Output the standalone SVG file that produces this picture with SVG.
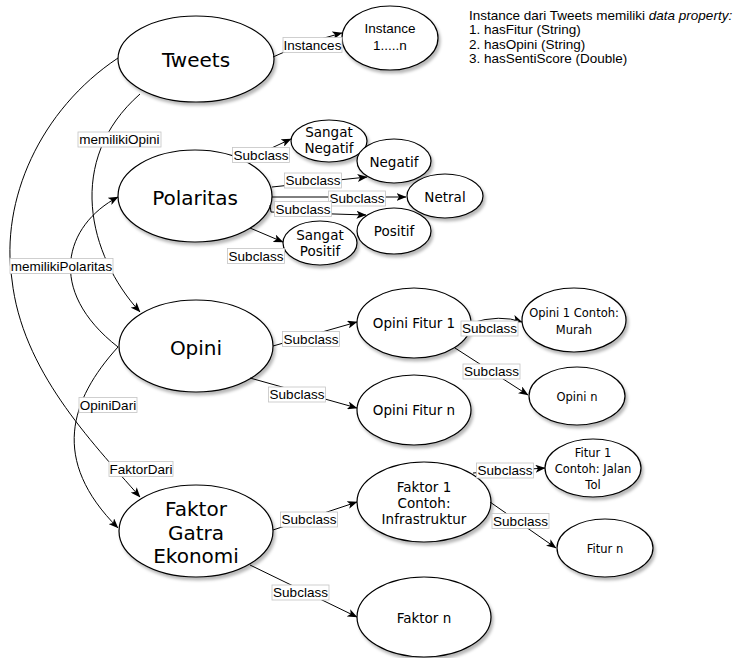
<svg xmlns="http://www.w3.org/2000/svg" width="742" height="658" viewBox="0 0 742 658">
  <defs>
    <filter id="shadow" x="-20%" y="-20%" width="150%" height="160%">
      <feDropShadow dx="2" dy="3" stdDeviation="1.6" flood-color="#000" flood-opacity="0.28"/>
    </filter>
    <marker id="arrow" viewBox="0 0 10 8" refX="9.5" refY="4" markerWidth="10" markerHeight="8" markerUnits="userSpaceOnUse" orient="auto">
      <path d="M0,0 L10,4 L0,8 L2.5,4 Z" fill="#000"/>
    </marker>
  </defs>
  <style>
    .node ellipse { fill: #fff; stroke: #000; stroke-width: 1.2; filter: url(#shadow); }
    .big { font-family: "DejaVu Sans", Verdana, sans-serif; font-size: 20px; fill: #000; text-anchor: middle; dominant-baseline: central; }
    .mid { font-family: "DejaVu Sans", Verdana, sans-serif; font-size: 13.5px; fill: #000; text-anchor: middle; dominant-baseline: central; }
    .small { font-family: "DejaVu Sans", Verdana, sans-serif; font-size: 11.5px; fill: #000; text-anchor: middle; dominant-baseline: central; }
    .helv { font-family: "Liberation Sans", Arial, sans-serif; font-size: 13.5px; fill: #000; text-anchor: middle; dominant-baseline: central; }
    .note { font-family: "Liberation Sans", Arial, sans-serif; font-size: 13.5px; fill: #000; dominant-baseline: central; }
    .edge { fill: none; stroke: #000; stroke-width: 1; }
    .arr { marker-end: url(#arrow); }
    .lbl rect { fill: #fff; stroke: #c4c4c4; stroke-width: 0.8; }
    .lbl text { font-family: "Liberation Sans", Arial, sans-serif; font-size: 13.5px; fill: #000; text-anchor: middle; dominant-baseline: central; }
  </style>

  <rect width="742" height="658" fill="#fff"/>

  <!-- nodes -->
  <g id="tweets" class="node">
    <ellipse cx="196" cy="59" rx="78" ry="43"/>
    <text class="big" x="196" y="60">Tweets</text>
  </g>
  <g id="instance" class="node">
    <ellipse cx="390" cy="38" rx="48" ry="32"/>
    <text class="helv" x="390" y="28">Instance</text>
    <text class="helv" x="390" y="45">1.....n</text>
  </g>
  <g id="polaritas" class="node">
    <ellipse cx="195" cy="196" rx="77" ry="46"/>
    <text class="big" x="195" y="198">Polaritas</text>
  </g>
  <g id="sangat-negatif" class="node">
    <ellipse cx="329" cy="141" rx="38" ry="21"/>
    <text class="mid" x="329" y="132">Sangat</text>
    <text class="mid" x="329" y="148">Negatif</text>
  </g>
  <g id="negatif" class="node">
    <ellipse cx="394" cy="161" rx="37" ry="22"/>
    <text class="mid" x="394" y="162">Negatif</text>
  </g>
  <g id="netral" class="node">
    <ellipse cx="445" cy="196" rx="38" ry="22"/>
    <text class="mid" x="445" y="197">Netral</text>
  </g>
  <g id="positif" class="node">
    <ellipse cx="394" cy="231" rx="37" ry="23"/>
    <text class="mid" x="394" y="231">Positif</text>
  </g>
  <g id="sangat-positif" class="node">
    <ellipse cx="320" cy="243" rx="37" ry="22"/>
    <text class="mid" x="320" y="235">Sangat</text>
    <text class="mid" x="320" y="251">Positif</text>
  </g>
  <g id="opini" class="node">
    <ellipse cx="196" cy="346" rx="77" ry="46"/>
    <text class="big" x="196" y="348">Opini</text>
  </g>
  <g id="opini-fitur-1" class="node">
    <ellipse cx="414" cy="323" rx="57" ry="35"/>
    <text class="mid" x="414" y="323">Opini Fitur 1</text>
  </g>
  <g id="opini-1-contoh" class="node">
    <ellipse cx="574" cy="320" rx="52" ry="32"/>
    <text class="small" x="574" y="313">Opini 1 Contoh:</text>
    <text class="small" x="574" y="330">Murah</text>
  </g>
  <g id="opini-n" class="node">
    <ellipse cx="577" cy="396" rx="48" ry="29"/>
    <text class="small" x="577" y="397">Opini n</text>
  </g>
  <g id="opini-fitur-n" class="node">
    <ellipse cx="414" cy="410" rx="57" ry="35"/>
    <text class="mid" x="414" y="410">Opini Fitur n</text>
  </g>
  <g id="faktor-gatra-ekonomi" class="node">
    <ellipse cx="196" cy="531" rx="77" ry="46"/>
    <text class="big" x="196" y="509">Faktor</text>
    <text class="big" x="196" y="533">Gatra</text>
    <text class="big" x="196" y="556">Ekonomi</text>
  </g>
  <g id="faktor-1" class="node">
    <ellipse cx="424" cy="502" rx="67" ry="40"/>
    <text class="mid" x="424" y="487">Faktor 1</text>
    <text class="mid" x="424" y="503">Contoh:</text>
    <text class="mid" x="424" y="519">Infrastruktur</text>
  </g>
  <g id="fitur-1" class="node">
    <ellipse cx="593" cy="468" rx="48" ry="29"/>
    <text class="small" x="593" y="453">Fitur 1</text>
    <text class="small" x="593" y="469">Contoh: Jalan</text>
    <text class="small" x="593" y="485">Tol</text>
  </g>
  <g id="fitur-n" class="node">
    <ellipse cx="605" cy="548" rx="48" ry="29"/>
    <text class="small" x="605" y="549">Fitur n</text>
  </g>
  <g id="faktor-n" class="node">
    <ellipse cx="424" cy="617" rx="67" ry="40"/>
    <text class="mid" x="424" y="618">Faktor n</text>
  </g>

  <!-- note on data properties -->
  <g id="note">
    <text class="note" x="469" y="15">Instance dari Tweets memiliki <tspan font-style="italic">data property:</tspan></text>
    <text class="note" x="469" y="29.5">1. hasFitur (String)</text>
    <text class="note" x="469" y="44">2. hasOpini (String)</text>
    <text class="note" x="469" y="58.5">3. hasSentiScore (Double)</text>
  </g>

  <!-- connectors -->
  <g id="connectors">
    <path class="edge arr" d="M273,57 Q300,44 342,33"/>
    <path class="edge arr" d="M140,94 C65,160 88,255 140,312"/>
    <path class="edge arr" d="M118,347 C45,290 65,225 118,197"/>
    <path class="edge arr" d="M118,58 C40,110 0,200 12,280 C22,370 90,440 140,497"/>
    <path class="edge arr" d="M118,347 C70,400 50,460 118,528"/>

    <path class="edge arr" d="M250,158 L291,139"/>
    <path class="edge arr" d="M272,187 L367,177"/>
    <path class="edge arr" d="M272,197 L406,197"/>
    <path class="edge arr" d="M270,205 L271,212 L366,215"/>
    <path class="edge arr" d="M250,228 L283,242"/>

    <path class="edge arr" d="M273,346 L357,322"/>
    <path class="edge arr" d="M250,378 L357,408"/>
    <path class="edge arr" d="M471,323 Q500,314 522,322"/>
    <path class="edge arr" d="M455,348 L528,395"/>

    <path class="edge arr" d="M273,530 L357,502"/>
    <path class="edge arr" d="M250,565 L357,617"/>
    <path class="edge arr" d="M473,473 L545,468"/>
    <path class="edge arr" d="M490,502 L556,548"/>

    <g class="lbl"><rect x="283" y="37.5" width="59" height="15"/><text x="312.5" y="45">Instances</text></g>
    <g class="lbl"><rect x="78" y="132" width="83" height="15"/><text x="119.5" y="139.5">memilikiOpini</text></g>
    <g class="lbl"><rect x="10" y="258.5" width="103" height="15"/><text x="61.5" y="266">memilikiPolaritas</text></g>
    <g class="lbl"><rect x="79" y="397.5" width="58" height="15"/><text x="108" y="405">OpiniDari</text></g>
    <g class="lbl"><rect x="109" y="461.5" width="64" height="15"/><text x="141" y="469">FaktorDari</text></g>

    <g class="lbl"><rect x="232.5" y="147.5" width="57" height="15"/><text x="261" y="155">Subclass</text></g>
    <g class="lbl"><rect x="284.5" y="173" width="57" height="15"/><text x="313" y="180.5">Subclass</text></g>
    <g class="lbl"><rect x="328.5" y="191" width="57" height="15"/><text x="357" y="198.5">Subclass</text></g>
    <g class="lbl"><rect x="274.5" y="201.5" width="57" height="15"/><text x="303" y="209">Subclass</text></g>
    <g class="lbl"><rect x="227.5" y="248.5" width="57" height="15"/><text x="256" y="256">Subclass</text></g>

    <g class="lbl"><rect x="282.5" y="331.5" width="57" height="15"/><text x="311" y="339">Subclass</text></g>
    <g class="lbl"><rect x="268.5" y="387" width="57" height="15"/><text x="297" y="394.5">Subclass</text></g>
    <g class="lbl"><rect x="461" y="321" width="57" height="15"/><text x="489.5" y="328.5">Subclass</text></g>
    <g class="lbl"><rect x="463" y="364" width="57" height="15"/><text x="491.5" y="371.5">Subclass</text></g>

    <g class="lbl"><rect x="280.5" y="512" width="57" height="15"/><text x="309" y="519.5">Subclass</text></g>
    <g class="lbl"><rect x="272" y="585" width="57" height="15"/><text x="300.5" y="592.5">Subclass</text></g>
    <g class="lbl"><rect x="476.5" y="463" width="57" height="15"/><text x="505" y="470.5">Subclass</text></g>
    <g class="lbl"><rect x="492" y="513.5" width="57" height="15"/><text x="520.5" y="521">Subclass</text></g>
  </g>
</svg>
